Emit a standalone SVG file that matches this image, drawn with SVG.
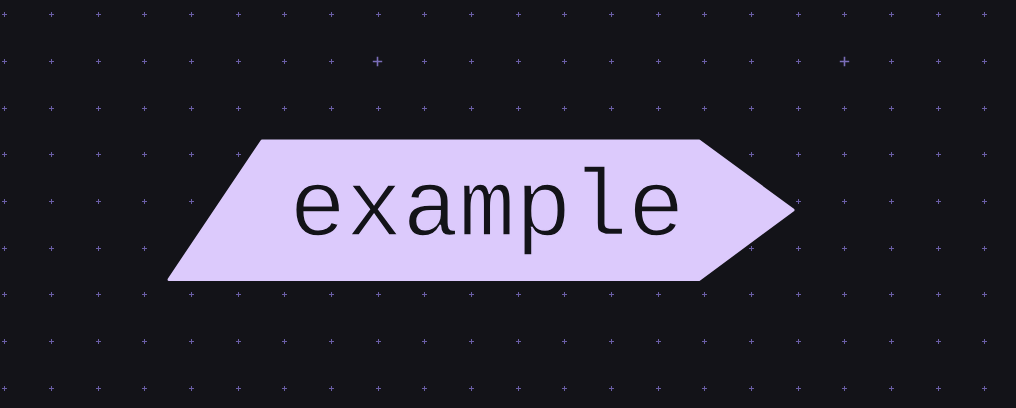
<svg xmlns="http://www.w3.org/2000/svg" width="1016" height="408" viewBox="0 0 1016 408">
<defs>
<style>
.bg{fill:#131318}
.dot{stroke:#6a5ea6;stroke-width:1;fill:none}
.big{stroke:#7a6db8;stroke-width:1.6;fill:none}
.node{fill:#dccafc;stroke:#dccafc;stroke-width:3;stroke-linejoin:round}
.lbl{font-family:"Liberation Mono","DejaVu Sans Mono",monospace;font-size:94px;fill:#131318;stroke:#dccafc;stroke-width:1.6;paint-order:fill stroke}
</style>
<path id="row" class="dot" d="M2 .5h5M4.5 -2v5M49 .5h5M51.5 -2v5M96 .5h5M98.5 -2v5M142 .5h5M144.5 -2v5M189 .5h5M191.5 -2v5M236 .5h5M238.5 -2v5M282 .5h5M284.5 -2v5M329 .5h5M331.5 -2v5M376 .5h5M378.5 -2v5M422 .5h5M424.5 -2v5M469 .5h5M471.5 -2v5M516 .5h5M518.5 -2v5M562 .5h5M564.5 -2v5M609 .5h5M611.5 -2v5M656 .5h5M658.5 -2v5M702 .5h5M704.5 -2v5M749 .5h5M751.5 -2v5M796 .5h5M798.5 -2v5M842 .5h5M844.5 -2v5M889 .5h5M891.5 -2v5M936 .5h5M938.5 -2v5M982 .5h5M984.5 -2v5"/>
</defs>
<rect class="bg" width="1016" height="408"/>
<g id="grid">
<use href="#row" y="14"/>
<use href="#row" y="61"/>
<use href="#row" y="108"/>
<use href="#row" y="154"/>
<use href="#row" y="201"/>
<use href="#row" y="248"/>
<use href="#row" y="294"/>
<use href="#row" y="341"/>
<use href="#row" y="388"/>
<path class="bg" d="M373 57h10v10h-10zM840 57h10v10h-10z"/>
<path class="big" d="M372.8 61.5H382.2M377.5 56.8V66.2"/>
<path class="big" d="M839.8 61.5H849.2M844.5 56.8V66.2"/>
</g>
<g id="node-example">
<polygon class="node" points="262,141 699,141 793,210 699,279.5 169,279.5"/>
<text class="lbl" x="487" y="235" text-anchor="middle">example</text>
</g>
<g id="connectors"/>
</svg>
